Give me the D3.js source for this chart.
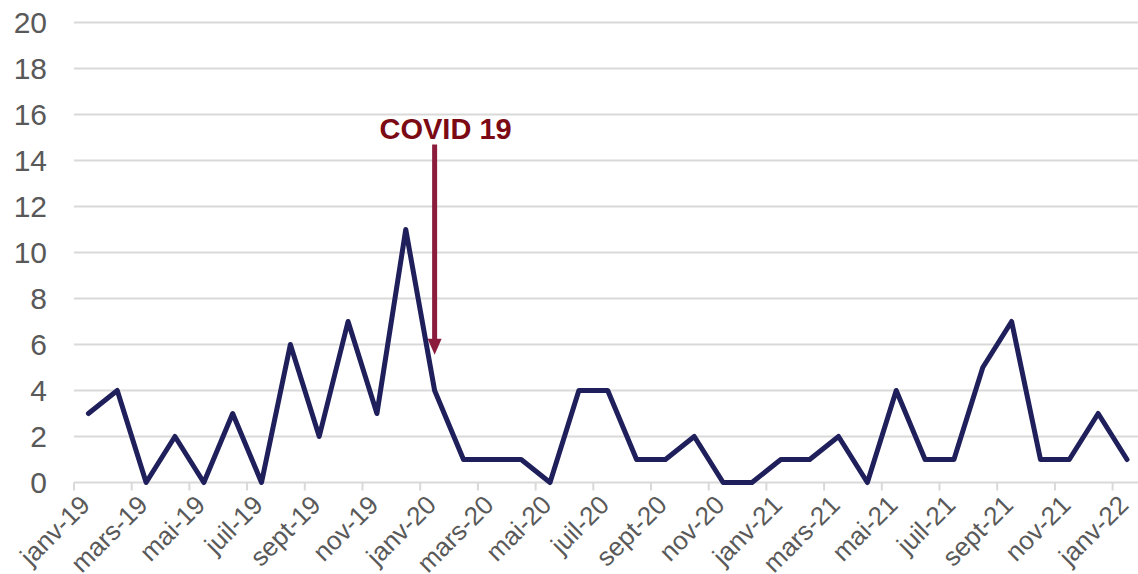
<!DOCTYPE html>
<html>
<head>
<meta charset="utf-8">
<script src="https://cdn.jsdelivr.net/npm/d3@7"></script>
<style>
  body { margin: 0; background: #fff; }
  text { font-family: "Liberation Sans", Arial, sans-serif; }
</style>
</head>
<body>
<div id="chart"></div>
<script>
var width = 1138, height = 574;

// monthly values, janv-19 .. janv-22
var months = ['janv-19','févr-19','mars-19','avr-19','mai-19','juin-19','juil-19','août-19','sept-19','oct-19','nov-19','déc-19',
              'janv-20','févr-20','mars-20','avr-20','mai-20','juin-20','juil-20','août-20','sept-20','oct-20','nov-20','déc-20',
              'janv-21','févr-21','mars-21','avr-21','mai-21','juin-21','juil-21','août-21','sept-21','oct-21','nov-21','déc-21',
              'janv-22'];
var values = [3,4,0,2,0,3,0,6,2,7,3,11,
              4,1,1,1,0,4,4,1,1,2,0,0,
              1,1,2,0,4,1,1,5,7,1,1,3,
              1];
var yTicks = [0,2,4,6,8,10,12,14,16,18,20];
var annotation = { label: 'COVID 19', month: 'janv-20', from: 14.7, to: 5.55 };

var svg = d3.select('#chart')
  .append('svg')
  .attr('width', width)
  .attr('height', height);

var x = d3.scaleBand().domain(months).range([74, 74 + 37 * 28.85]);
var y = d3.scaleLinear().domain([0, 20]).range([482.5, 22.5]);
var cx = d => x(d) + x.bandwidth() / 2;

// gridlines
svg.append('g')
  .selectAll('line')
  .data(yTicks.slice(1))
  .enter()
  .append('line')
  .attr('x1', 74).attr('x2', width)
  .attr('y1', d => y(d)).attr('y2', d => y(d))
  .attr('stroke', '#d9d9d9')
  .attr('stroke-width', 2);

// y labels
svg.append('g')
  .selectAll('text')
  .data(yTicks)
  .enter()
  .append('text')
  .attr('x', 47)
  .attr('y', d => y(d) + 10.5)
  .attr('text-anchor', 'end')
  .attr('font-size', 30)
  .attr('fill', '#595959')
  .text(d => d);

// x axis: ticks between categories, every 2 months
var xAxis = svg.append('g');
xAxis.append('line')
  .attr('x1', 74).attr('x2', width)
  .attr('y1', y(0)).attr('y2', y(0))
  .attr('stroke', '#d9d9d9')
  .attr('stroke-width', 2);

var shown = months.filter((m, i) => i % 2 === 0);
xAxis.selectAll('.tick')
  .data(shown)
  .enter()
  .append('line')
  .attr('x1', d => x(d)).attr('x2', d => x(d))
  .attr('y1', y(0)).attr('y2', y(0) + 8)
  .attr('stroke', '#d9d9d9')
  .attr('stroke-width', 2);

xAxis.selectAll('.lbl')
  .data(shown)
  .enter()
  .append('text')
  .attr('transform', d => 'translate(' + (cx(d) + 3) + ',' + (y(0) + 24) + ')rotate(-45)')
  .attr('text-anchor', 'end')
  .attr('font-size', 26)
  .attr('fill', '#595959')
  .text(d => d);

// series line
var line = d3.line()
  .x((d, i) => cx(months[i]))
  .y(d => y(d));

svg.append('path')
  .datum(values)
  .attr('d', line)
  .attr('fill', 'none')
  .attr('stroke', '#1f1f5c')
  .attr('stroke-width', 5)
  .attr('stroke-linejoin', 'round')
  .attr('stroke-linecap', 'round');

// annotation arrow
var ax = cx(annotation.month);
svg.append('line')
  .attr('x1', ax).attr('x2', ax)
  .attr('y1', y(annotation.from)).attr('y2', y(annotation.to) - 14)
  .attr('stroke', '#8b1c3c')
  .attr('stroke-width', 5);
svg.append('path')
  .attr('d', 'M' + (ax - 7) + ',' + (y(annotation.to) - 16) + 'L' + (ax + 7) + ',' + (y(annotation.to) - 16) + 'L' + ax + ',' + y(annotation.to) + 'Z')
  .attr('fill', '#8b1c3c');
svg.append('text')
  .attr('x', ax + 11)
  .attr('y', y(annotation.from) - 5)
  .attr('text-anchor', 'middle')
  .attr('font-size', 29)
  .attr('font-weight', 'bold')
  .attr('fill', '#7b0a14')
  .text(annotation.label);
</script>
</body>
</html>
